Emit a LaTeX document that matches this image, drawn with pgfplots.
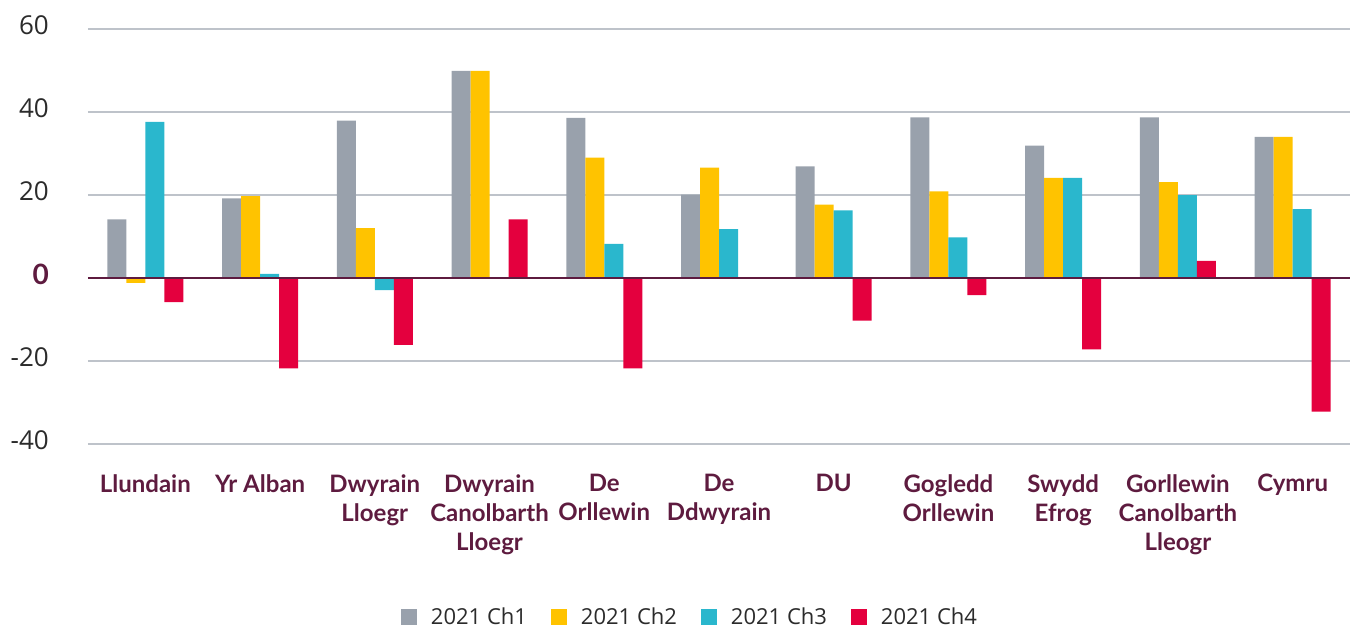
\documentclass[border=0pt]{standalone}
\usepackage{pgfplots}
\pgfplotsset{compat=1.18}
\usepackage{pgfplotstable}
\usepackage{fontspec}
\setmainfont{Open Sans}
\newfontfamily\labelfont{Lato}

\definecolor{qone}{HTML}{99A1AC}
\definecolor{qtwo}{HTML}{FFC300}
\definecolor{qthree}{HTML}{2AB7CD}
\definecolor{qfour}{HTML}{E4003E}
\definecolor{maroon}{HTML}{5E1B3F}
\definecolor{gridgray}{HTML}{BEC3CA}
\definecolor{ticktext}{HTML}{2B2B2B}

% values, one row per region
\pgfplotstableread{
x  c1    c2    c3    c4
0  14.1  -1.2  37.6  -5.8
1  19.2  19.7  1.0   -21.8
2  37.9  12.0  -2.9  -16.1
3  49.9  49.9  0     14.1
4  38.6  29.0  8.2   -21.8
5  20.1  26.6  11.8  0
6  26.9  17.7  16.3  -10.3
7  38.7  20.9  9.8   -4.1
8  31.9  24.1  24.1  -17.2
9  38.7  23.1  20.0  4.1
10 34.0  34.0  16.6  -32.2
}\regions

\begin{document}
\begin{tikzpicture}
\begin{axis}[
  scale only axis,
  width=1262pt, height=415pt,
  ybar=0pt, bar width=19pt,
  xmin=-0.5, xmax=10.5,
  ymin=-40, ymax=60,
  xtick={0,...,10},
  xticklabels={
    Llundain,
    Yr Alban,
    Dwyrain\\Lloegr,
    Dwyrain\\Canolbarth\\Lloegr,
    De\\Orllewin,
    De\\Ddwyrain,
    DU,
    Gogledd\\Orllewin,
    Swydd\\Efrog,
    Gorllewin\\Canolbarth\\Lleogr,
    Cymru},
  x tick label style={
    font=\labelfont\bfseries\fontsize{24}{29}\selectfont,
    text=maroon, align=center, anchor=north, inner sep=0pt, yshift=-30pt},
  ytick={-40,-20,20,40,60},
  yticklabels={-40,-20,20,40,60},
  extra y ticks={0},
  extra y tick labels={\labelfont\bfseries\fontsize{28}{30}\selectfont 0},
  extra y tick style={ymajorgrids=false, yticklabel style={text=maroon}},
  y tick label style={
    font=\fontsize{26}{30}\selectfont, text=ticktext,
    anchor=east, inner sep=0pt, xshift=-39pt, yshift=4pt},
  ymajorgrids,
  grid style={gridgray, line width=1.5pt},
  axis line style={draw=none},
  major tick length=0pt,
  legend columns=4,
  legend style={
    at={(0.477,-0.417)}, anchor=center, draw=none,
    font=\fontsize{22}{26}\selectfont, text=ticktext,
    /tikz/every odd column/.append style={column sep=12pt},
    /tikz/every even column/.append style={column sep=22pt}},
  legend image code/.code={
    \fill[#1] (0pt,-8pt) rectangle (16pt,8pt);},
]
  \addplot[fill=qone, draw=none] table[x=x, y=c1] {\regions};
  \addlegendentry{2021 Ch1}
  \addplot[fill=qtwo, draw=none] table[x=x, y=c2] {\regions};
  \addlegendentry{2021 Ch2}
  \addplot[fill=qthree, draw=none] table[x=x, y=c3] {\regions};
  \addlegendentry{2021 Ch3}
  \addplot[fill=qfour, draw=none] table[x=x, y=c4] {\regions};
  \addlegendentry{2021 Ch4}
  \draw[maroon, line width=1.5pt] (axis cs:-0.5,0) -- (axis cs:10.5,0);
\end{axis}
\pgfresetboundingbox
\path (-88pt,-185pt) rectangle (1268pt,444pt);
\end{tikzpicture}
\end{document}
